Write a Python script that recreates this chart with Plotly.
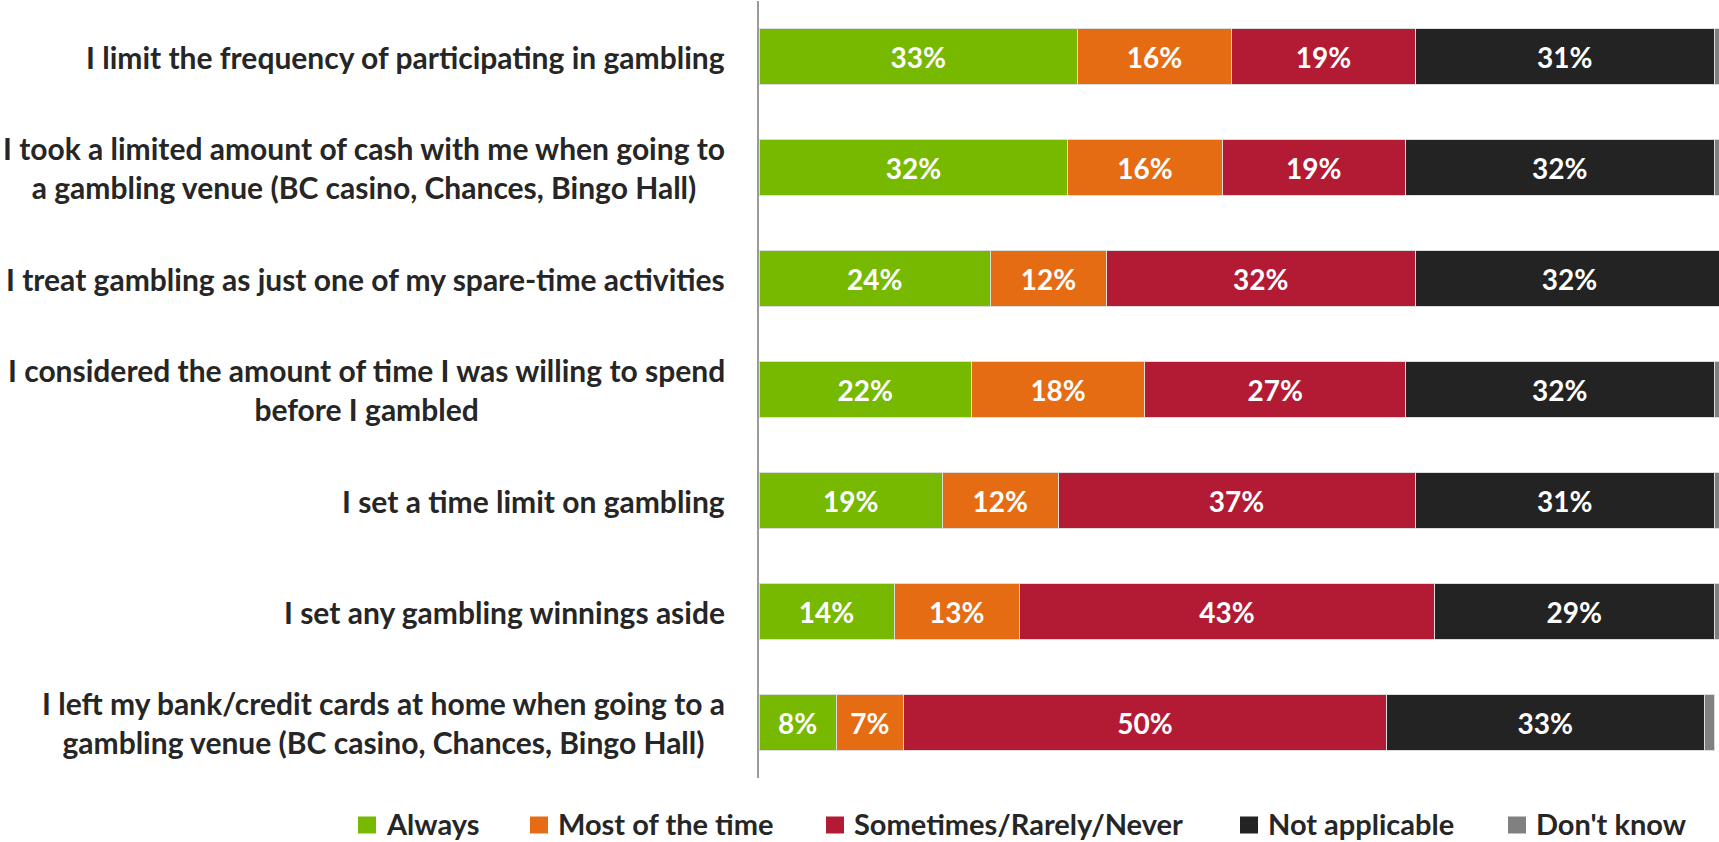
import plotly.graph_objects as go

# Survey statements (top to bottom) and response shares in percent
statements = [
    "I limit the frequency of participating in gambling",
    "I took a limited amount of cash with me when going to<br>a gambling venue (BC casino, Chances, Bingo Hall)",
    "I treat gambling as just one of my spare-time activities",
    "I considered the amount of time I was willing to spend<br>before I gambled",
    "I set a time limit on gambling",
    "I set any gambling winnings aside",
    "I left my bank/credit cards at home when going to a<br>gambling venue (BC casino, Chances, Bingo Hall)",
]
always = [33, 32, 24, 22, 19, 14, 8]
most_of_time = [16, 16, 12, 18, 12, 13, 7]
sometimes = [19, 19, 32, 27, 37, 43, 50]
not_applicable = [31, 32, 32, 32, 31, 29, 33]
dont_know = [1, 1, 1, 1, 1, 1, 1]

series = [
    ("Always", always, "#76b900", True),
    ("Most of the time", most_of_time, "#e66c14", True),
    ("Sometimes/Rarely/Never", sometimes, "#b31b34", True),
    ("Not applicable", not_applicable, "#232323", True),
    ("Don't know", dont_know, "#808080", False),
]

FONT = "Lato"
TEXT_DARK = "#262626"

# Page geometry (pixels)
W, H = 1719, 842
M_L, M_R, M_T, M_B = 759, 0, 1, 64
PLOT_W = W - M_L - M_R
PLOT_H = H - M_T - M_B

# Legend key placement: left edge of each swatch, swatch size, row centre
legend_left = [358, 530, 826, 1240, 1508]
SWATCH = 17
LEGEND_ROW_Y = 826
TEXT_OFFSET = 27


def px_to_paper_x(px):
    return (px - M_L) / PLOT_W


def px_to_paper_y(py):
    return (H - M_B - py) / PLOT_H


fig = go.Figure()
for name, values, color, labelled in series:
    fig.add_trace(go.Bar(
        name=name,
        y=statements,
        x=values,
        orientation="h",
        marker=dict(color=color, line=dict(color="#dcdcdc", width=1)),
        text=[f"{v}%" for v in values] if labelled else None,
        textposition="inside" if labelled else "none",
        insidetextanchor="middle",
        textangle=0,
        constraintext="none",
        textfont=dict(family=FONT, size=28, color="white", weight="bold"),
        hoverinfo="skip",
        showlegend=False,
    ))

# Category labels, centred line by line and right-anchored next to the axis
for s in statements:
    fig.add_annotation(
        x=0, y=s, xref="x", yref="y",
        text=s, showarrow=False,
        xanchor="right", yanchor="middle", align="center",
        xshift=-32,
        font=dict(family=FONT, size=30, color=TEXT_DARK, weight="bold"),
    )

# Legend row beneath the chart: coloured swatch followed by the series name
for (name, _, color, _), left in zip(series, legend_left):
    fig.add_shape(
        type="rect", xref="paper", yref="paper",
        x0=px_to_paper_x(left), x1=px_to_paper_x(left + SWATCH + 1),
        y0=px_to_paper_y(LEGEND_ROW_Y - SWATCH / 2 - 1),
        y1=px_to_paper_y(LEGEND_ROW_Y + SWATCH / 2 - 1),
        fillcolor=color, line=dict(width=0),
    )
    fig.add_annotation(
        x=px_to_paper_x(left + TEXT_OFFSET), y=px_to_paper_y(H),
        xref="paper", yref="paper",
        text=name, showarrow=False,
        xanchor="left", yanchor="bottom",
        borderpad=0,
        font=dict(family=FONT, size=29, color=TEXT_DARK, weight="bold"),
    )

fig.update_layout(
    width=W, height=H,
    barmode="stack",
    bargap=0.5,
    plot_bgcolor="white",
    paper_bgcolor="white",
    margin=dict(l=M_L, r=M_R, t=M_T, b=M_B, autoexpand=False),
    showlegend=False,
    xaxis=dict(
        range=[0, 99.5],
        showgrid=False, zeroline=False, showticklabels=False, showline=False,
        fixedrange=True,
    ),
    yaxis=dict(
        autorange="reversed",
        showgrid=False, zeroline=False, showticklabels=False,
        showline=True, linecolor="#9a9a9a", linewidth=2,
        fixedrange=True,
    ),
)

fig.write_html("out.html")
